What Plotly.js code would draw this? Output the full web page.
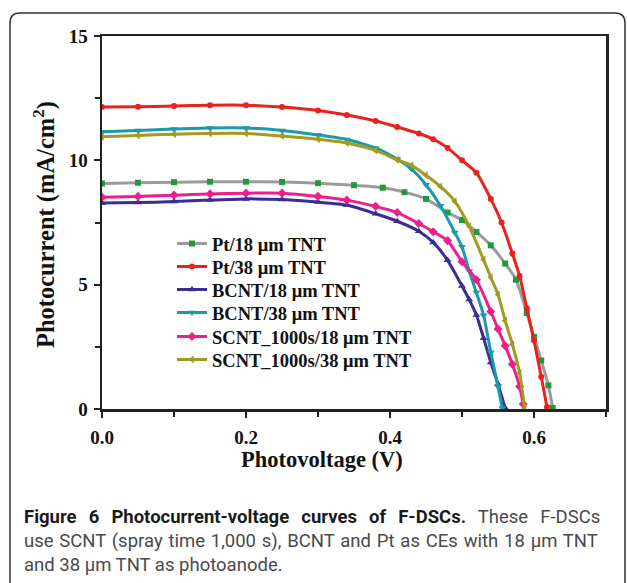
<!DOCTYPE html>
<html>
<head>
<meta charset="utf-8">
<script src="https://cdn.plot.ly/plotly-3.0.1.min.js"></script>
<style>
  html, body { margin: 0; padding: 0; background: #ffffff; }
  #chart { width: 627px; height: 583px; }
</style>
</head>
<body>
<div id="chart"></div>
<script>
// ---- data ----
const seriesNames = [
  "Pt/18 μm TNT",
  "Pt/38 μm TNT",
  "BCNT/18 μm TNT",
  "BCNT/38 μm TNT",
  "SCNT_1000s/18 μm TNT",
  "SCNT_1000s/38 μm TNT"
];

const vPt18 = [0, 0.05, 0.1, 0.15, 0.2, 0.25, 0.3, 0.35, 0.39, 0.42, 0.45, 0.48, 0.5, 0.52, 0.54, 0.56, 0.575, 0.59, 0.6, 0.61, 0.62, 0.626];
const jPt18 = [9.07, 9.1, 9.12, 9.14, 9.14, 9.13, 9.08, 9.0, 8.9, 8.72, 8.45, 7.9, 7.6, 7.12, 6.58, 5.85, 5.2, 3.86, 2.9, 1.95, 0.95, 0.04];

const vPt38 = [0, 0.05, 0.1, 0.15, 0.2, 0.25, 0.3, 0.34, 0.38, 0.41, 0.44, 0.46, 0.48, 0.5, 0.52, 0.54, 0.555, 0.57, 0.58, 0.59, 0.6, 0.61, 0.618];
const jPt38 = [12.14, 12.15, 12.18, 12.22, 12.22, 12.14, 12.0, 11.82, 11.58, 11.34, 11.08, 10.85, 10.5, 10.0, 9.5, 8.45, 7.5, 6.25, 5.35, 4.05, 2.75, 1.3, 0.08];

const vBcnt18 = [0, 0.05, 0.1, 0.15, 0.2, 0.25, 0.3, 0.34, 0.38, 0.41, 0.44, 0.46, 0.48, 0.5, 0.51, 0.52, 0.53, 0.54, 0.55, 0.56];
const jBcnt18 = [8.28, 8.3, 8.34, 8.4, 8.45, 8.42, 8.32, 8.2, 7.85, 7.55, 7.15, 6.7, 5.98, 4.95, 4.4, 3.78, 2.85, 1.87, 1.0, 0.04];

const vBcnt38 = [0, 0.05, 0.1, 0.15, 0.2, 0.25, 0.3, 0.34, 0.38, 0.41, 0.43, 0.45, 0.47, 0.49, 0.5, 0.51, 0.52, 0.53, 0.54, 0.55, 0.556];
const jBcnt38 = [11.15, 11.2, 11.26, 11.3, 11.3, 11.2, 11.02, 10.84, 10.5, 10.05, 9.65, 9.02, 8.17, 7.1, 6.52, 5.55, 4.68, 3.77, 2.28, 0.9, 0.04];

const vScnt18 = [0, 0.05, 0.1, 0.15, 0.2, 0.25, 0.3, 0.34, 0.38, 0.41, 0.44, 0.46, 0.48, 0.5, 0.52, 0.54, 0.55, 0.56, 0.57, 0.58, 0.585];
const jScnt18 = [8.52, 8.55, 8.6, 8.65, 8.68, 8.68, 8.55, 8.4, 8.15, 7.9, 7.46, 7.13, 6.77, 5.92, 5.2, 3.92, 3.22, 2.54, 1.8, 0.9, 0.2];

const vScnt38 = [0, 0.05, 0.1, 0.15, 0.2, 0.25, 0.3, 0.34, 0.38, 0.41, 0.43, 0.45, 0.47, 0.49, 0.51, 0.53, 0.54, 0.55, 0.56, 0.57, 0.58, 0.587];
const jScnt38 = [10.95, 11.0, 11.05, 11.08, 11.08, 10.98, 10.85, 10.7, 10.4, 10.02, 9.8, 9.4, 8.95, 8.35, 7.35, 6.0, 5.3, 4.6, 3.55, 2.6, 1.45, 0.04];

const xTickVals = [0, 0.2, 0.4, 0.6];
const yTickVals = [0, 5, 10, 15];

const captionBold = "Figure 6 Photocurrent-voltage curves of F-DSCs.";
const captionLine1Tail = "These F-DSCs";
const captionLine2 = "use SCNT (spray time 1,000 s), BCNT and Pt as CEs with 18 µm TNT";
const captionLine3 = "and 38 µm TNT as photoanode.";

// ---- styling ----
const serif = "Liberation Serif, Times New Roman, serif";
const capFont = "Roboto, Open Sans, sans-serif";

const xs = [vPt18, vPt38, vBcnt18, vBcnt38, vScnt18, vScnt38];
const ys = [jPt18, jPt38, jBcnt18, jBcnt38, jScnt18, jScnt38];
const lineColors = ["#9b9b9b", "#e8231e", "#3a2d95", "#1a9ba8", "#ec1f8b", "#a19b1f"];
const markerColors = ["#1f9b3d", "#e8231e", "#3a2d95", "#1a9ba8", "#ec1f8b", "#a19b1f"];
const symbols = ["square", "circle", "triangle-up", "triangle-down", "diamond", "triangle-left"];
const msizes = [6, 6, 7, 7, 7, 7];
const legendIds = ["legend", "legend2", "legend3", "legend4", "legend5", "legend6"];
const legendRowY = [244, 267, 290, 313, 337, 360];

const traces = seriesNames.map((n, i) => ({
  type: "scatter",
  mode: "lines+markers",
  name: n,
  legend: legendIds[i],
  x: xs[i],
  y: ys[i],
  line: { color: lineColors[i], width: 3, shape: "spline", smoothing: 0.6 },
  marker: { color: markerColors[i], symbol: symbols[i], size: msizes[i] }
}));

// paper coords helpers (plot area: x 102..606, y 36..409 px)
const L = 102, R = 606, T = 36, B = 409;
const px = v => (v - L) / (R - L);
const py = v => (B - v) / (B - T);

const bl = px(10), br = px(625), bt = py(13), bb = py(640);
const rx = 10 / (R - L), ry = 10 / (B - T);
const boxPath = `M ${bl},${bb} L ${bl},${bt - ry} Q ${bl},${bt} ${bl + rx},${bt} L ${br - rx},${bt} Q ${br},${bt} ${br},${bt - ry} L ${br},${bb}`;

const capStyle = (c) => ({ family: capFont, size: 18.5, color: c });
const annotations = [
  {
    xref: "paper", yref: "paper", x: px(322), y: py(459),
    text: "Photovoltage (V)", showarrow: false, xanchor: "center", yanchor: "middle",
    font: { family: serif, size: 22.5, color: "#111", weight: "bold" }
  },
  {
    xref: "paper", yref: "paper", x: px(44), y: py(225),
    text: "Photocurrent (mA/cm<sup>2</sup>)", showarrow: false, textangle: -90,
    xanchor: "center", yanchor: "middle",
    font: { family: serif, size: 24.5, color: "#111", weight: "bold" }
  },
  {
    xref: "paper", yref: "paper", x: px(22), y: py(517),
    text: "<span style=\"word-spacing:7.5px\"><b>" + captionBold + "</b> " +
          "<span style=\"color:#4a4a4a\">" + captionLine1Tail + "</span></span>",
    showarrow: false, xanchor: "left", yanchor: "middle", align: "left",
    font: capStyle("#1a1a1a")
  },
  {
    xref: "paper", yref: "paper", x: px(22), y: py(541),
    text: "<span style=\"word-spacing:1.2px\">" + captionLine2 + "</span>",
    showarrow: false, xanchor: "left", yanchor: "middle", align: "left",
    font: capStyle("#4a4a4a")
  },
  {
    xref: "paper", yref: "paper", x: px(22), y: py(565),
    text: captionLine3,
    showarrow: false, xanchor: "left", yanchor: "middle", align: "left",
    font: capStyle("#4a4a4a")
  }
];

const layout = {
  width: 627, height: 583,
  margin: { l: L, r: 627 - R, t: T, b: 583 - B, pad: 0 },
  paper_bgcolor: "#ffffff", plot_bgcolor: "#ffffff",
  showlegend: true,
  xaxis: {
    range: [0, 0.7], tickvals: xTickVals, tickformat: ".1f",
    ticks: "outside", ticklen: 6, tickwidth: 2, tickcolor: "#222",
    minor: { dtick: 0.1, tick0: 0, ticks: "outside", ticklen: 5, tickwidth: 2, tickcolor: "#222" },
    showline: true, linecolor: "#222", linewidth: 2.5, mirror: true,
    showgrid: false, zeroline: false,
    tickfont: { family: serif, size: 19, color: "#111", weight: "bold" },
    ticklabelstandoff: 4
  },
  yaxis: {
    range: [0, 15], tickvals: yTickVals,
    ticks: "outside", ticklen: 6, tickwidth: 2, tickcolor: "#222",
    minor: { dtick: 2.5, tick0: 0, ticks: "outside", ticklen: 5, tickwidth: 2, tickcolor: "#222" },
    showline: true, linecolor: "#222", linewidth: 2.5, mirror: true,
    showgrid: false, zeroline: false,
    tickfont: { family: serif, size: 19, color: "#111", weight: "bold" },
    ticklabelstandoff: 2
  },
  shapes: [
    { type: "path", xref: "paper", yref: "paper", path: boxPath,
      line: { color: "#333", width: 1.5 }, layer: "below" }
  ],
  annotations: annotations
};

legendIds.forEach((id, i) => {
  layout[id] = {
    x: px(172), y: py(legendRowY[i]), xanchor: "left", yanchor: "middle",
    bgcolor: "rgba(0,0,0,0)", borderwidth: 0,
    font: { family: serif, size: 18.5, color: "#111", weight: "bold" },
    itemwidth: 30
  };
});

Plotly.newPlot("chart", traces, layout, { displayModeBar: false, staticPlot: true });
</script>
</body>
</html>
